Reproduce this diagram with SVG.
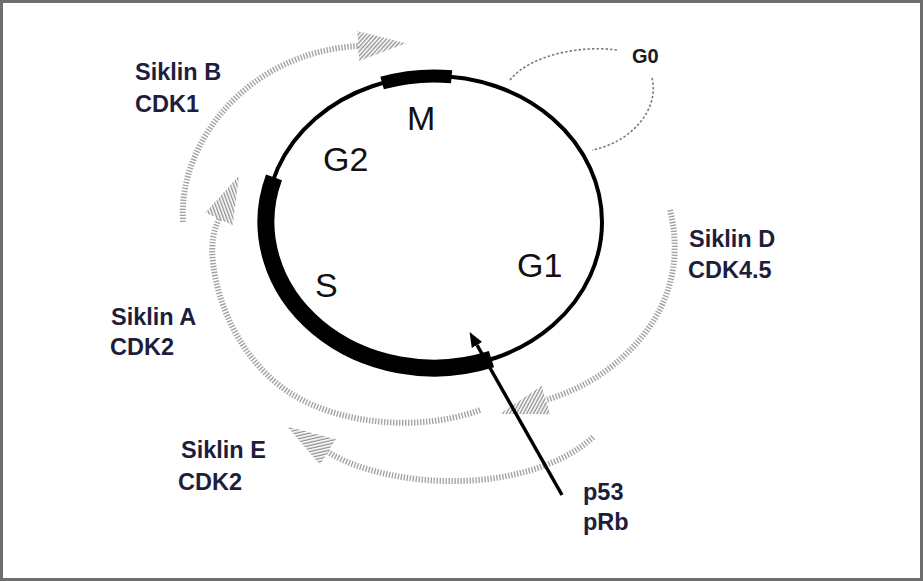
<svg xmlns="http://www.w3.org/2000/svg" width="923" height="581" viewBox="0 0 923 581">
  <style>
    .phase { font-family: "Liberation Sans", Arial, sans-serif; font-size: 34px; fill: #111; }
    .cyc { font-family: "Liberation Sans", Arial, sans-serif; font-weight: bold; font-size: 23.5px; fill: #1e1e3c; }
    .g0 { font-family: "Liberation Sans", Arial, sans-serif; font-weight: bold; font-size: 20px; fill: #1a1a1a; }
    .ring { fill: none; stroke: #000; }
    .band { fill: none; stroke: #a3a3a3; stroke-width: 6; stroke-dasharray: 1.4 1.6; marker-end: url(#hatchHead); }
    .loop { fill: none; stroke: #7a7a7a; stroke-width: 1.6; stroke-dasharray: 2.5 2; }
  </style>
  <defs>
    <pattern id="hatch" width="3" height="3" patternUnits="userSpaceOnUse" patternTransform="rotate(45)">
      <rect width="1.3" height="3" fill="#8c8c8c"/>
    </pattern>
    <marker id="hatchHead" markerUnits="userSpaceOnUse" viewBox="0 0 60 40" markerWidth="60" markerHeight="40" refX="0" refY="20" orient="auto">
      <polygon points="0,5 48,20 0,35" fill="url(#hatch)"/>
    </marker>
    <marker id="solidHead" markerUnits="userSpaceOnUse" viewBox="0 0 16 14" markerWidth="16" markerHeight="14" refX="0" refY="7" orient="auto">
      <polygon points="0,1 15,7 0,13" fill="#000"/>
    </marker>
  </defs>

  <!-- frame -->
  <rect x="1.5" y="1.5" width="920" height="578" fill="#fff" stroke="#6e6e6e" stroke-width="3"/>

  <!-- cell cycle ring with phase segments -->
  <g id="cycle">
    <ellipse class="ring" cx="434" cy="222" rx="168" ry="146" stroke-width="4"/>
    <path id="seg-S" class="ring" d="M274,177.4 A168,146 0 0 0 491.5,359.2" stroke-width="17"/>
    <path id="seg-M" class="ring" d="M382.1,83.1 A168,146 0 0 1 451.6,76.8" stroke-width="13"/>
  </g>

  <g id="phase-M"><text class="phase" x="407" y="130">M</text></g>
  <g id="phase-G2"><text class="phase" x="323" y="171">G2</text></g>
  <g id="phase-G1"><text class="phase" x="517" y="277">G1</text></g>
  <g id="phase-S"><text class="phase" x="315" y="297">S</text></g>
  <g id="phase-G0"><text class="g0" x="632" y="63">G0</text></g>

  <g id="cyclin-B"><text class="cyc" x="135" y="80">Siklin B</text><text class="cyc" x="135" y="112">CDK1</text></g>
  <g id="cyclin-A"><text class="cyc" x="111" y="325">Siklin A</text><text class="cyc" x="110" y="355">CDK2</text></g>
  <g id="cyclin-E"><text class="cyc" x="181" y="458">Siklin E</text><text class="cyc" x="178" y="490">CDK2</text></g>
  <g id="cyclin-D"><text class="cyc" x="689" y="247">Siklin D</text><text class="cyc" x="688" y="278">CDK4.5</text></g>
  <g id="checkpoint"><text class="cyc" x="583" y="500">p53</text><text class="cyc" x="583" y="530">pRb</text></g>

  <!-- connectors -->
  <g id="connectors">
    <path class="band" d="M183,222 C178,140 250,52 358,46"/>
    <path class="band" d="M480,410 C420,432 340,425 290,393 C245,364 218,310 213,262 C211,245 213,232 219,219"/>
    <path class="band" d="M670,210 C685,270 665,330 600,375 C585,385 566,394 546,400"/>
    <path class="band" d="M593,437 C560,468 500,482 450,481 C410,481 360,472 328,452"/>
    <path class="loop" d="M510,80 C530,55 580,45 617,50"/>
    <path class="loop" d="M652,78 C660,110 630,143 592,150"/>
    <line x1="562" y1="495" x2="477" y2="345" stroke="#000" stroke-width="3.5" marker-end="url(#solidHead)"/>
  </g>
</svg>
